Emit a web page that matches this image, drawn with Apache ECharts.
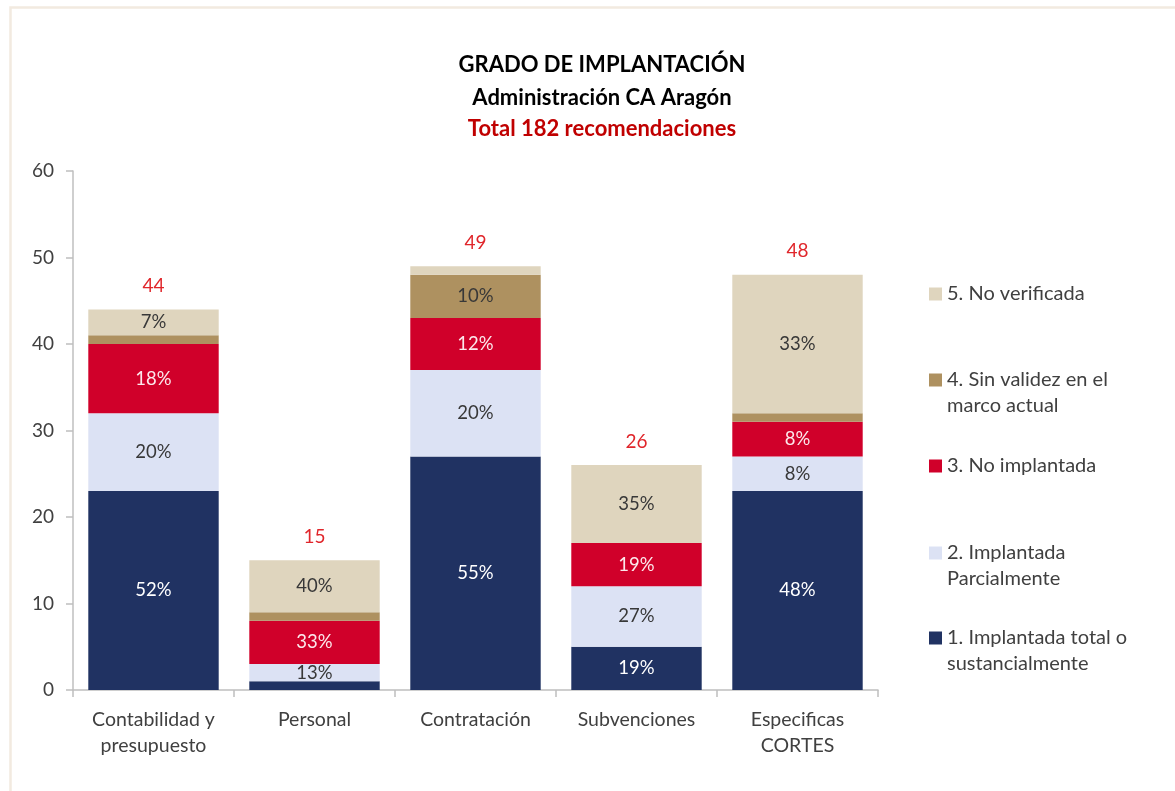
<!DOCTYPE html>
<html>
<head>
<meta charset="utf-8">
<script src="https://cdn.jsdelivr.net/npm/echarts@6/dist/echarts.min.js"></script>
<style>
html,body{margin:0;padding:0;background:#fff;}
#chart{width:1175px;height:791px;}
</style>
</head>
<body>
<div id="chart"></div>
<script>
const categories = ['Contabilidad y\npresupuesto', 'Personal', 'Contratación', 'Subvenciones', 'Especificas\nCORTES'];
const seriesNames = ['1. Implantada total o\nsustancialmente', '2. Implantada\nParcialmente', '3. No implantada', '4. Sin validez en el\nmarco actual', '5. No verificada'];
const implantadaTotal = [23, 1, 27, 5, 23];
const implantadaParcial = [9, 2, 10, 7, 4];
const noImplantada = [8, 5, 6, 5, 4];
const sinValidez = [1, 1, 5, 0, 1];
const noVerificada = [3, 6, 1, 9, 16];
const totals = [44, 15, 49, 26, 48];
const yTicks = {min: 0, max: 60, interval: 10};

const FONT = 'Lato';
const colors = ['#203262', '#DCE2F4', '#D0002A', '#AE9160', '#DFD5BE'];
const labelColors = ['#ffffff', '#383838', '#FCE8EC', '#383838', '#383838'];
const values = [implantadaTotal, implantadaParcial, noImplantada, sinValidez, noVerificada];

const series = values.map((arr, i) => ({
  name: seriesNames[i],
  type: 'bar',
  stack: 'total',
  barWidth: '81%',
  itemStyle: {color: colors[i]},
  data: arr,
  label: {
    show: true,
    position: 'inside',
    fontFamily: FONT,
    fontSize: 18.5,
    color: labelColors[i],
    formatter: p => (p.value >= 2 ? Math.round(p.value / totals[p.dataIndex] * 100) + '%' : '')
  }
}));
series.push({
  name: 'total',
  type: 'bar',
  stack: 'total',
  data: totals.map(() => 0),
  itemStyle: {color: 'transparent'},
  label: {
    show: true,
    position: 'top',
    distance: 14,
    fontFamily: FONT,
    fontSize: 19,
    color: '#E0262B',
    formatter: p => String(totals[p.dataIndex])
  }
});

// legend: top to bottom 5..1, icon centres at given y
const legendIconY = [638, 553, 466, 380, 294];
const legends = seriesNames.map((n, i) => {
  const twoLine = n.indexOf('\n') >= 0;
  return {
    data: [n],
    left: 929,
    top: legendIconY[i] - (twoLine ? 39 : 13),
    orient: 'vertical',
    padding: 0,
    itemWidth: 13,
    itemHeight: 13,
    itemGap: 0,
    selectedMode: false,
    icon: 'rect',
    formatter: name => (name.indexOf('\n') >= 0 ? ' \n' + name : name),
    textStyle: {
      fontFamily: FONT,
      fontSize: 20,
      color: '#404040',
      lineHeight: 26
    }
  };
});

const chart = echarts.init(document.getElementById('chart'), null, {renderer: 'canvas'});
chart.setOption({
  backgroundColor: '#ffffff',
  animation: false,
  title: [
    {text: 'GRADO DE IMPLANTACIÓN', left: 597, top: 49, textAlign: 'center',
     textStyle: {fontFamily: FONT, fontSize: 22, fontWeight: 'bold', color: '#000'}},
    {text: 'Administración CA Aragón', left: 597, top: 82, textAlign: 'center',
     textStyle: {fontFamily: FONT, fontSize: 22, fontWeight: 'bold', color: '#000'}},
    {text: 'Total 182 recomendaciones', left: 597, top: 113, textAlign: 'center',
     textStyle: {fontFamily: FONT, fontSize: 22, fontWeight: 'bold', color: '#C00000'}}
  ],
  graphic: [{
    type: 'rect', left: 8, top: 5,
    shape: {x: 0, y: 0, width: 1400, height: 1000},
    style: {fill: 'none', stroke: '#F2EAE0', lineWidth: 2.5},
    silent: true
  }],
  legend: legends,
  grid: {left: 73, top: 171, width: 805, height: 519, containLabel: false},
  xAxis: {
    type: 'category',
    data: categories,
    axisLine: {lineStyle: {color: '#BFBFBF', width: 1.5}},
    axisTick: {show: true, alignWithLabel: false, length: 7, lineStyle: {color: '#BFBFBF', width: 1.5}},
    axisLabel: {fontFamily: FONT, fontSize: 19.5, color: '#404040', lineHeight: 26, margin: 17, interval: 0}
  },
  yAxis: {
    type: 'value',
    min: yTicks.min, max: yTicks.max, interval: yTicks.interval,
    axisLine: {show: true, lineStyle: {color: '#BFBFBF', width: 1.5}},
    axisTick: {show: true, length: 7, lineStyle: {color: '#BFBFBF', width: 1.5}},
    splitLine: {show: false},
    axisLabel: {fontFamily: FONT, fontSize: 19, color: '#404040', margin: 19}
  },
  series: series
});
</script>
</body>
</html>
